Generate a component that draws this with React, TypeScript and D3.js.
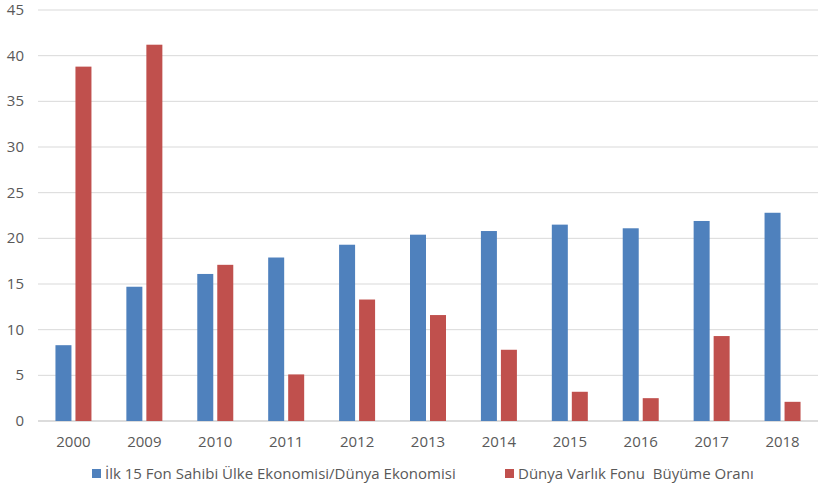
import React, { useRef, useEffect } from 'react';
import * as d3 from 'd3';

const years = ['2000', '2009', '2010', '2011', '2012', '2013', '2014', '2015', '2016', '2017', '2018'];
const top15Share = [8.3, 14.7, 16.1, 17.9, 19.3, 20.4, 20.8, 21.5, 21.1, 21.9, 22.8];
const fundGrowth = [38.8, 41.2, 17.1, 5.1, 13.3, 11.6, 7.8, 3.2, 2.5, 9.3, 2.1];
const yTicks = [0, 5, 10, 15, 20, 25, 30, 35, 40, 45];
const seriesNames = ['İlk 15 Fon Sahibi Ülke Ekonomisi/Dünya Ekonomisi', 'Dünya Varlık Fonu  Büyüme Oranı'];
const colors = ['#4F81BD', '#C0504D'];

const W = 818;
const H = 494;
const font = 'Open Sans, Noto Sans, sans-serif';

const App = () => {
  const svgRef = useRef<SVGSVGElement>(null);

  useEffect(() => {
    const svg = d3.select(svgRef.current);
    svg.selectAll('*').remove();

    const x = d3.scaleBand().domain(years).range([38, 818]);
    const y = d3.scaleLinear().domain([0, 45]).range([421, 10]);

    // gridlines
    svg
      .append('g')
      .selectAll('line')
      .data(yTicks)
      .join('line')
      .attr('x1', 38)
      .attr('x2', 818)
      .attr('y1', d => y(d))
      .attr('y2', d => y(d))
      .attr('stroke', d => (d === 0 ? '#d0d0d0' : '#d9d9d9'))
      .attr('stroke-width', d => (d === 0 ? 1.5 : 1));

    // y labels
    svg
      .append('g')
      .selectAll('text')
      .data(yTicks)
      .join('text')
      .attr('x', 24)
      .attr('y', d => y(d) + 5)
      .attr('text-anchor', 'end')
      .attr('fill', '#595959')
      .attr('font-size', 15)
      .attr('font-family', font)
      .text(d => d);

    const barW = 16;
    const gap = 4;
    const series = [top15Share, fundGrowth];

    series.forEach((vals, si) => {
      svg
        .append('g')
        .selectAll('rect')
        .data(vals)
        .join('rect')
        .attr('x', (d, i) => {
          const c = (x(years[i]) as number) + x.bandwidth() / 2;
          return si === 0 ? c - gap / 2 - barW : c + gap / 2;
        })
        .attr('y', d => y(d))
        .attr('width', barW)
        .attr('height', d => y(0) - y(d))
        .attr('fill', colors[si]);
    });

    // x labels
    svg
      .append('g')
      .selectAll('text')
      .data(years)
      .join('text')
      .attr('x', d => (x(d) as number) + x.bandwidth() / 2)
      .attr('y', 447)
      .attr('text-anchor', 'middle')
      .attr('fill', '#595959')
      .attr('font-size', 15)
      .attr('font-family', font)
      .text(d => d);

    // legend
    const legendX = [92, 505];
    seriesNames.forEach((name, i) => {
      const g = svg.append('g').attr('transform', `translate(${legendX[i]}, 479)`);
      g.append('rect').attr('x', 0).attr('y', -10).attr('width', 9).attr('height', 9).attr('fill', colors[i]);
      g.append('text')
        .attr('x', 13)
        .attr('y', 0)
        .attr('fill', '#595959')
        .attr('font-size', 15)
        .attr('font-family', font)
        .style('white-space', 'pre')
        .text(name);
    });
  }, []);

  return (
    <div style={{ position: 'absolute', left: 0, top: 0 }}>
      <svg ref={svgRef} width={W} height={H} style={{ display: 'block', background: '#fff' }} />
    </div>
  );
};

export default App;
